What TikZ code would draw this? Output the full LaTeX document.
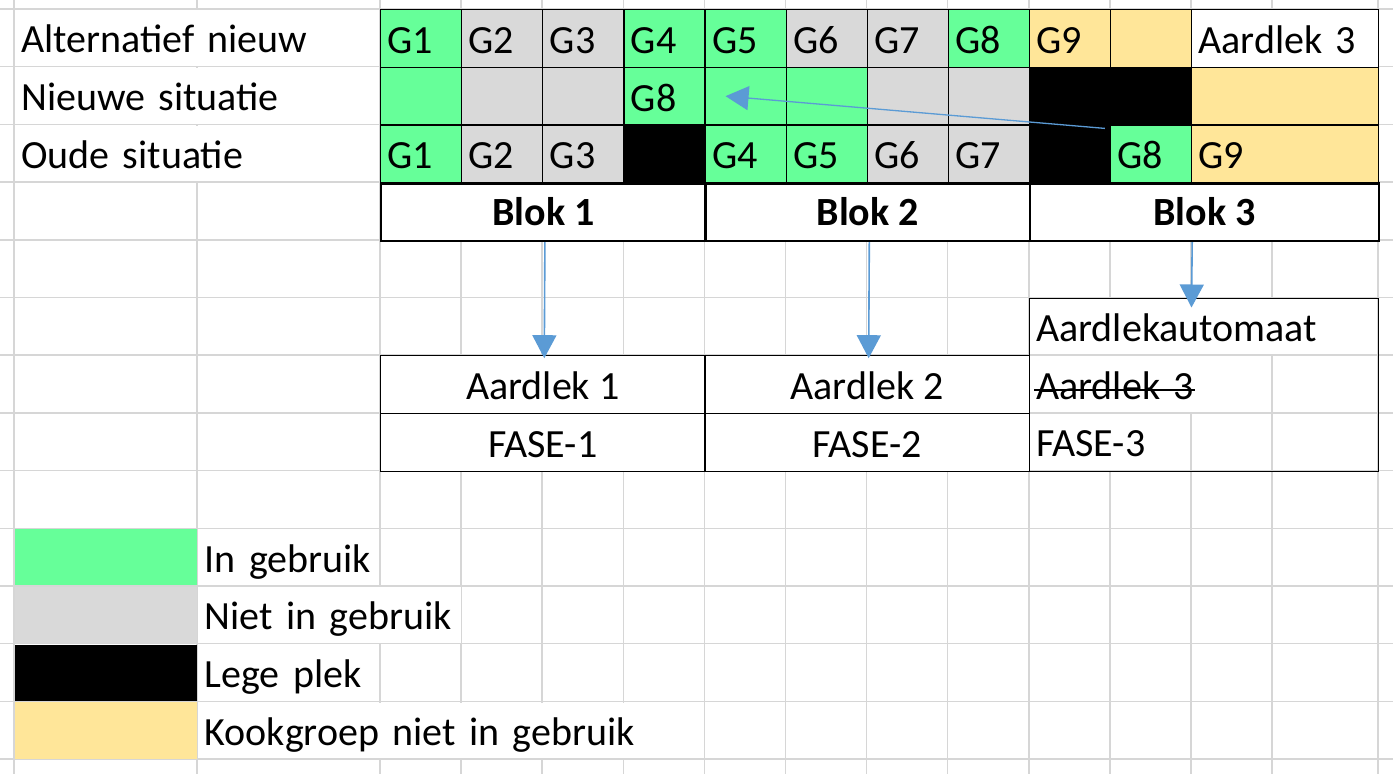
\documentclass[tikz,border=0pt]{standalone}
\usepackage{fontspec}
\setmainfont{Carlito}
\usetikzlibrary{arrows.meta}
\newcommand{\rijh}{57.7pt}
\newlength{\doorlen}
\newcommand{\doorhalen}[1]{\settowidth{\doorlen}{#1}\rlap{\kern-2pt\rule[8.2pt]{\dimexpr\doorlen+3pt\relax}{1.8pt}}#1}
\definecolor{ingebruik}{HTML}{66FF99}
\definecolor{nietgebruik}{HTML}{D9D9D9}
\definecolor{kookgroep}{HTML}{FFE699}
\definecolor{pijlblauw}{HTML}{5B9BD5}
\definecolor{rooster}{HTML}{D6D6D6}

\begin{document}
\begin{tikzpicture}[x=1pt, y=-1pt,
  font=\fontsize{40}{48}\selectfont,
  lijn/.style={draw=rooster, line width=1.5pt},
  cel/.style={draw=black, line width=1.2pt, fill=#1, anchor=north west,
    inner xsep=7pt, inner ysep=0pt, minimum height=\rijh,
    text height=29.7pt, text depth=0pt, text width=67.1pt, align=left},
  breed/.style={text width=173pt},
  tekst/.style={fill=white, anchor=north west, inner xsep=6pt, inner ysep=0pt,
    minimum height=55.7pt, text height=29.7pt, text depth=0pt,
    text width=#1, align=left},
  blok/.style={draw=black, line width=2.4pt, fill=white, anchor=north west,
    inner sep=0pt, minimum height=\rijh, minimum width=#1,
    text height=26pt, text depth=0pt, font=\fontsize{40}{48}\selectfont\bfseries},
  vak/.style={draw=black, line width=1.2pt, fill=white, anchor=north west,
    inner sep=0pt, minimum width=324.4pt, minimum height=\rijh,
    text height=29.7pt, text depth=0pt},
  kleur/.style={fill=#1, anchor=north west, inner sep=0pt,
    minimum width=182.2pt, minimum height=56.1pt},
  pijl/.style={draw=pijlblauw, line width=1.6pt, -{Triangle[length=23pt,width=24pt]}}
]
  \useasboundingbox (0,0) rectangle (1393,774);
  \fill[white] (0,0) rectangle (1393,774);

  % rooster
  \foreach \x in {14,197,380,461.1,542.2,623.3,704.4,785.5,866.6,947.7,1028.8,1109.9,1191,1272.1,1378}
    \draw[lijn] (\x,0) -- (\x,774);
  \foreach \y in {9,66.7,...,760}
    \draw[lijn] (0,\y) -- (1393,\y);

  % rijen
  \node (alt) at (15,10) [tekst=351pt] {Alternatief nieuw};
  \node (nieuw) at (15,67.7) [tekst=351pt] {Nieuwe situatie};
  \node (oud) at (15,125.4) [tekst=351pt] {Oude situatie};

  % alternatief nieuw
  \node (a1) at (380,9) [cel=ingebruik] {G1};
  \node (a2) at (461.1,9) [cel=nietgebruik] {G2};
  \node (a3) at (542.2,9) [cel=nietgebruik] {G3};
  \node (a4) at (623.3,9) [cel=ingebruik] {G4};
  \node (a5) at (704.4,9) [cel=ingebruik] {G5};
  \node (a6) at (785.5,9) [cel=nietgebruik] {G6};
  \node (a7) at (866.6,9) [cel=nietgebruik] {G7};
  \node (a8) at (947.7,9) [cel=ingebruik] {G8};
  \node (a9) at (1028.8,9) [cel=kookgroep] {G9};
  \node (a10) at (1109.9,9) [cel=kookgroep] {};
  \node (a11) at (1191,9) [cel=white, breed] {Aardlek 3};

  % nieuwe situatie
  \node (n1) at (380,66.7) [cel=ingebruik] {};
  \node (n2) at (461.1,66.7) [cel=nietgebruik] {};
  \node (n3) at (542.2,66.7) [cel=nietgebruik] {};
  \node (n4) at (623.3,66.7) [cel=ingebruik] {G8};
  \node (n5) at (704.4,66.7) [cel=ingebruik] {};
  \node (n6) at (785.5,66.7) [cel=ingebruik] {};
  \node (n7) at (866.6,66.7) [cel=nietgebruik] {};
  \node (n8) at (947.7,66.7) [cel=nietgebruik] {};
  \node (n9) at (1028.8,66.7) [cel=black] {};
  \node (n10) at (1109.9,66.7) [cel=black] {};
  \node (n11) at (1191,66.7) [cel=kookgroep, breed] {};

  % oude situatie
  \node (o1) at (380,124.4) [cel=ingebruik] {G1};
  \node (o2) at (461.1,124.4) [cel=nietgebruik] {G2};
  \node (o3) at (542.2,124.4) [cel=nietgebruik] {G3};
  \node (o4) at (623.3,124.4) [cel=black] {};
  \node (o5) at (704.4,124.4) [cel=ingebruik] {G4};
  \node (o6) at (785.5,124.4) [cel=ingebruik] {G5};
  \node (o7) at (866.6,124.4) [cel=nietgebruik] {G6};
  \node (o8) at (947.7,124.4) [cel=nietgebruik] {G7};
  \node (o9) at (1028.8,124.4) [cel=black] {};
  \node (o10) at (1109.9,124.4) [cel=ingebruik] {G8};
  \node (o11) at (1191,124.4) [cel=kookgroep, breed] {G9};

  % blokken
  \node (blk1) at (380,182.1) [blok=324.4pt] {Blok 1};
  \node (blk2) at (704.4,182.1) [blok=324.4pt] {Blok 2};
  \node (blk3) at (1028.8,182.1) [blok=349.2pt] {Blok 3};

  % aardlekken
  \node (al1) at (380,355.2) [vak] {Aardlek 1};
  \node (f1) at (380,412.9) [vak] {FASE-1};
  \node (al2) at (704.4,355.2) [vak] {Aardlek 2};
  \node (f2) at (704.4,412.9) [vak] {FASE-2};
  \node (b3t1) at (1030,298.5) [tekst=334.5pt] {Aardlekautomaat};
  \node (b3t2) at (1030,356.2) [tekst=228.5pt] {\doorhalen{Aardlek 3}};
  \node (b3t3) at (1030,413.9) [tekst=147.5pt] {FASE-3};
  \node (a3box) at (1028.8,297.5) [draw=black, line width=1.2pt, anchor=north west,
    inner sep=0pt, minimum width=349.2pt, minimum height=173.1pt] {};

  % legenda
  \node (kl1) at (14.8,529.1) [kleur=ingebruik] {};
  \node (kl2) at (14.8,586.8) [kleur=nietgebruik] {};
  \node (kl3) at (14.8,644.5) [kleur=black] {};
  \node (kl4) at (14.8,702.2) [kleur=kookgroep] {};
  \node (legt1) at (198.5,529.3) [tekst=168pt] {In gebruik};
  \node (legt2) at (198.5,587) [tekst=250pt] {Niet in gebruik};
  \node (legt3) at (198.5,644.7) [tekst=168pt] {Lege plek};
  \node (legt4) at (198.5,702.4) [tekst=492.5pt] {Kookgroep niet in gebruik};

  % pijlen
  \draw[pijl, shorten >=-3pt] ([xshift=1.5pt]blk1.south) -- ([xshift=1.5pt]al1.north);
  \draw[pijl, shorten >=-3pt] ([xshift=1.5pt]blk2.south) -- ([xshift=1.5pt]al2.north);
  \draw[pijl, shorten >=-10pt] ([xshift=-12.4pt]blk3.south) -- ([xshift=-12.4pt]a3box.north);
  \draw[pijl, line width=1.3pt] ([xshift=-5pt,yshift=-4pt]o10.north west) -- ([xshift=-20pt]n5.center);
\end{tikzpicture}
\end{document}
